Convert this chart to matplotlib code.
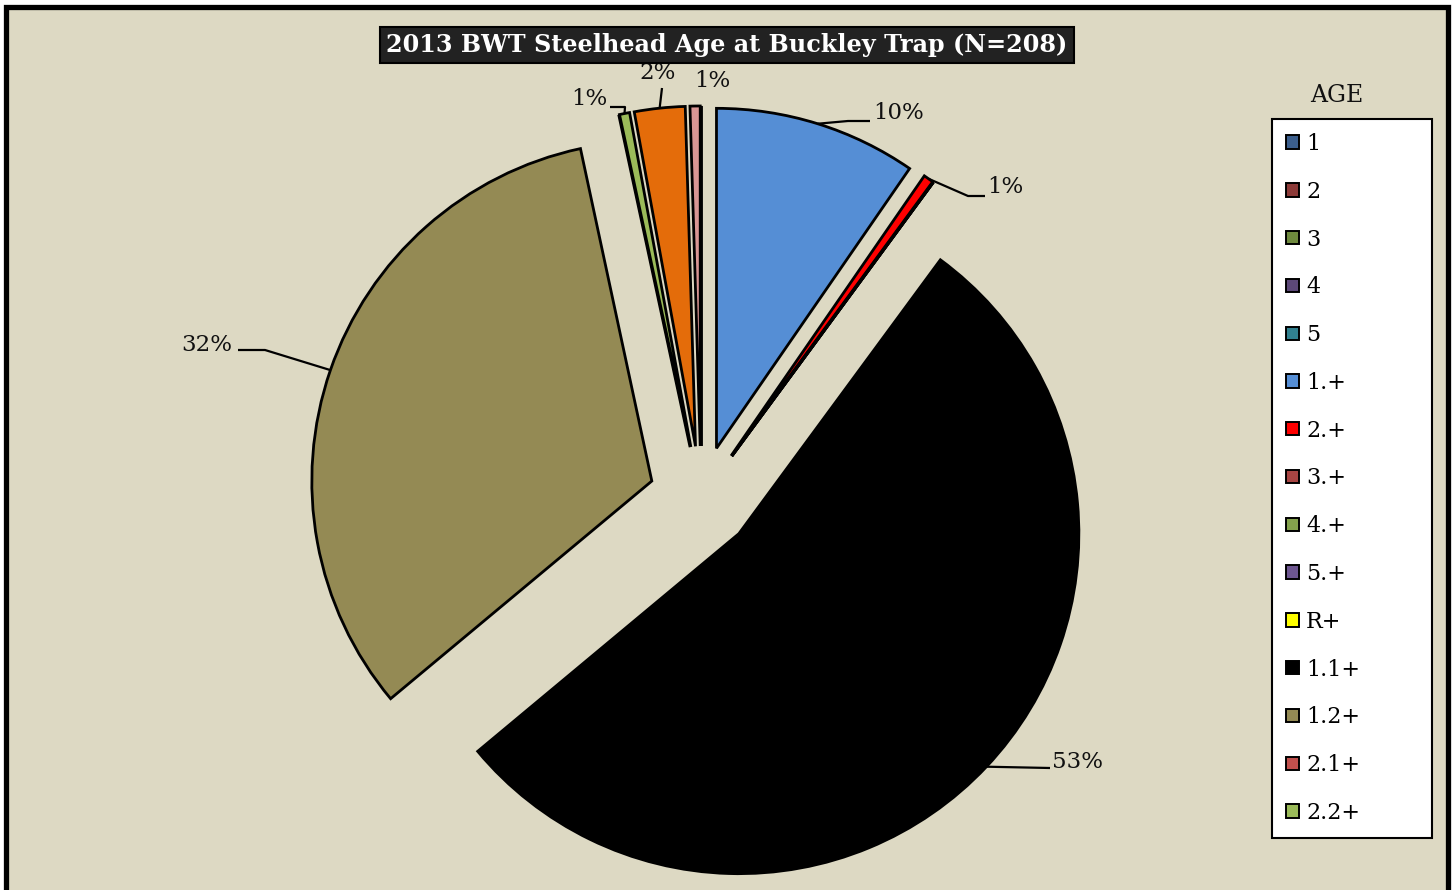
import matplotlib
matplotlib.use("Agg")
import matplotlib.pyplot as plt
from matplotlib.patches import Rectangle, Patch
import numpy as np

# ---------------- data ----------------
categories = ["1", "2", "3", "4", "5", "1.+", "2.+", "3.+", "4.+", "5.+", "R+",
              "1.1+", "1.2+", "2.1+", "2.2+", "3.1+", "3.2+"]
counts = [0, 0, 0, 0, 0, 20, 1, 0, 0, 0, 0, 112, 68, 0, 1, 5, 1]
shown_labels = {"1.+": "10%", "2.+": "1%", "1.1+": "53%", "1.2+": "32%",
                "2.2+": "1%", "3.1+": "2%", "3.2+": "1%"}
legend_categories = categories[:15]
colors = ["#3B5E8C", "#8C3A38", "#6F8A3E", "#5C4878", "#31808F", "#558ED5",
          "#FF0000", "#A84543", "#84A24C", "#6D5690", "#FFFF00", "#000000",
          "#948A54", "#C0504D", "#9BBB59", "#E46C0A", "#D99694"]
title = "2013 BWT Steelhead Age at Buckley Trap (N=208)"

# ---------------- layout ----------------
W, H = 1456, 890
DPI = 100
CX, CY, R = 701, 498, 340          # pie centre / radius in pixels
BG = "#DDD9C3"

def px(x, y):
    """pixel (from top-left) -> data coordinates"""
    return (x - CX) / R, (CY - y) / R

fig = plt.figure(figsize=(W / DPI, H / DPI), dpi=DPI, facecolor="white")
fig.patches.append(Rectangle((5.5 / W, -0.05), (1448 - 5.5) / W, (H - 7) / H + 0.05,
                             transform=fig.transFigure, facecolor=BG,
                             edgecolor="black", linewidth=3.8, zorder=-10))

ax = fig.add_axes([0, 0, 1, 1])
ax.set_facecolor("none")
ax.set_zorder(1)
wedges, _ = ax.pie(counts, colors=colors, startangle=90, counterclock=False,
                   explode=[0.153] * len(counts), radius=1.0,
                   wedgeprops=dict(edgecolor="black", linewidth=2.0))
ax.set_aspect("auto")
ax.set_xlim(-CX / R, (W - CX) / R)
ax.set_ylim((CY - H) / R, CY / R)
ax.axis("off")

serif = ["DejaVu Serif"]

# label layout: text pixel position, ha, leader-line pixel points (after arc point)
label_layout = {
    "1.+": ((873, 113), "left", [(848, 121), (870, 121)]),
    "2.+": ((987, 187), "left", [(968, 196), (985, 196)]),
    "1.1+": ((1052, 762), "left", [(1050, 768)]),
    "1.2+": ((232, 345), "right", [(265, 350), (238, 350)]),
    "2.2+": ((607, 99), "right", [(625, 107), (610, 107)]),
    "3.1+": ((658, 73), "center", [(662, 88)]),
    "3.2+": ((712, 81), "center", []),
}
for cat, w in zip(categories, wedges):
    if cat not in shown_labels:
        continue
    (tx, ty), ha, pts = label_layout[cat]
    ang = np.deg2rad((w.theta1 + w.theta2) / 2)
    cx, cy = w.center
    start = (cx + w.r * np.cos(ang), cy + w.r * np.sin(ang))
    if pts:
        xs = [start[0]] + [px(*p)[0] for p in pts]
        ys = [start[1]] + [px(*p)[1] for p in pts]
        ax.plot(xs, ys, color="black", lw=1.6, solid_capstyle="butt")
    x, y = px(tx, ty)
    ax.text(x, y, shown_labels[cat], ha=ha, va="center", fontsize=16.5,
            family=serif, color="#111111")

# title
fig.text(727 / W, 1 - 45 / H, title, ha="center", va="center", fontsize=17.2,
         fontweight="bold", family=serif, color="white", zorder=5,
         bbox=dict(boxstyle="square,pad=0.25", facecolor="#222222",
                   edgecolor="black", linewidth=1.5))

# legend
handles = [Patch(facecolor=colors[categories.index(c)], edgecolor="black", linewidth=1.4)
           for c in legend_categories]
leg = fig.legend(handles, legend_categories, loc="upper left",
                 bbox_to_anchor=(1272 / W, 1 - 119 / H, 160 / W, 0.0), mode="expand",
                 borderaxespad=0, prop={"family": serif, "size": 16},
                 handlelength=0.6, handleheight=0.55, handletextpad=0.3,
                 labelspacing=1.16, borderpad=0.63, frameon=True, fancybox=False,
                 framealpha=1.0)
leg.get_frame().set_edgecolor("black")
leg.get_frame().set_linewidth(1.5)
leg.get_frame().set_facecolor("white")
leg.set_zorder(5)
fig.text(1337 / W, 1 - 95 / H, "AGE", ha="center", va="center", fontsize=17,
         family=serif, color="#111111")

fig.savefig("out.png", dpi=DPI, facecolor="white")
